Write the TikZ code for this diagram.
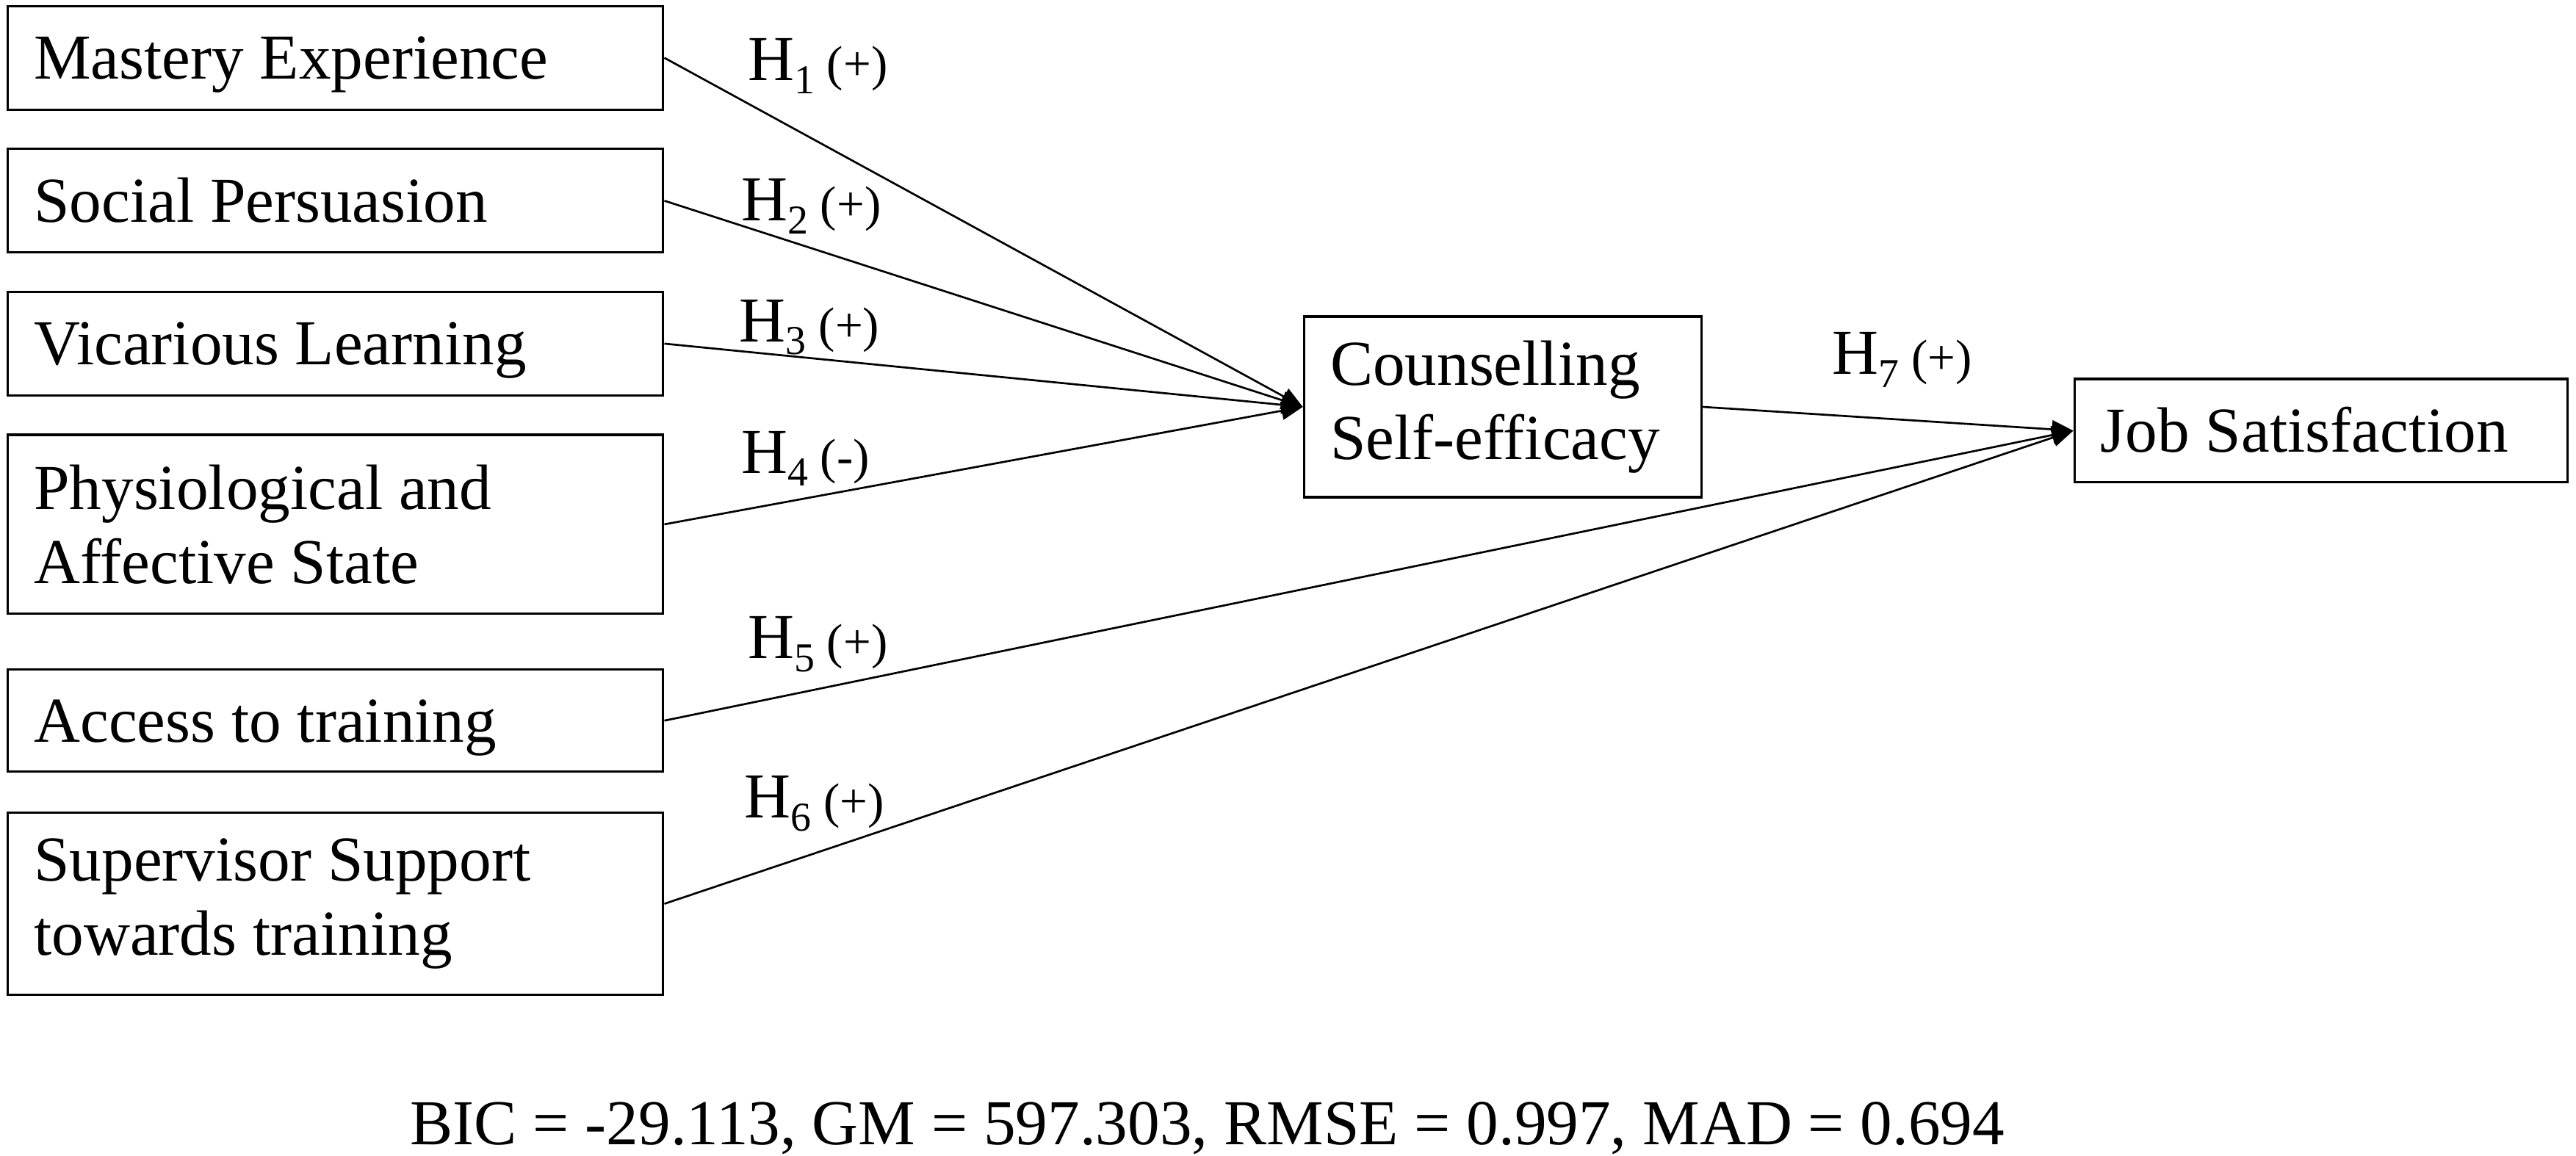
\documentclass[tikz,border=0pt]{standalone}
\usepackage{fontspec}
\setmainfont{Liberation Serif}
\usetikzlibrary{arrows.meta}
\newcommand{\hlabel}[2]{H\raisebox{-0.2em}{\fontsize{25}{25}\selectfont #1}{\fontsize{30}{30}\selectfont\ (#2)}}
\begin{document}
\begin{tikzpicture}[x=1pt,y=-1pt,
  box/.style={draw,line width=1.4pt,anchor=north west,inner xsep=16pt,inner ysep=0pt,
    font=\fontsize{39}{45}\selectfont,align=flush left},
  onebox/.style={box,text height=26pt,text depth=0pt},
  link/.style={line width=1.2pt,-{Triangle[length=13pt,width=11pt]}},
  hyp/.style={anchor=base west,inner sep=0pt,font=\fontsize{39}{45}\selectfont}]
\useasboundingbox (0,0) rectangle (1568,703.7);
\node[onebox,minimum width=399pt,minimum height=63pt,text width=367pt] (b1) at (4,3) {Mastery Experience};
\node[onebox,minimum width=399pt,minimum height=63pt,text width=367pt] (b2) at (4,90) {Social Persuasion};
\node[onebox,minimum width=399pt,minimum height=63pt,text width=367pt] (b3) at (4,177) {Vicarious Learning};
\node[box,minimum width=399pt,minimum height=109pt,text width=367pt] (b4) at (4,264) {Physiological and\\Affective State};
\node[onebox,minimum width=399pt,minimum height=62pt,text width=367pt] (b5) at (4,407) {Access to training};
\node[box,minimum width=399pt,minimum height=111pt,text width=367pt] (b6) at (4,494) {Supervisor Support\\towards training};
\node[box,minimum width=242pt,minimum height=110pt,text width=210pt] (cse) at (793,192) {Counselling\\Self-efficacy};
\node[onebox,minimum width=300pt,minimum height=63pt,text width=268pt] (js) at (1262,230) {Job Satisfaction};
\draw[link] (b1.east) -- (cse.west);
\draw[link] (b2.east) -- (cse.west);
\draw[link] (b3.east) -- (cse.west);
\draw[link] (b4.east) -- (cse.west);
\draw[link] (cse.east) -- (js.west);
\draw[link] (b5.east) -- (js.west);
\draw[link] (b6.east) -- (js.west);
\node[hyp] (h1) at (455,49) {\hlabel{1}{+}};
\node[hyp] (h2) at (451,134.5) {\hlabel{2}{+}};
\node[hyp] (h3) at (450,208) {\hlabel{3}{+}};
\node[hyp] (h4) at (451,288) {\hlabel{4}{-}};
\node[hyp] (h5) at (455,401) {\hlabel{5}{+}};
\node[hyp] (h6) at (453,498) {\hlabel{6}{+}};
\node[hyp] (h7) at (1115,228) {\hlabel{7}{+}};
\node[anchor=base,inner sep=0pt,font=\fontsize{39}{45}\selectfont] (fit) at (735,697) {BIC = -29.113, GM = 597.303, RMSE = 0.997, MAD = 0.694};
\end{tikzpicture}
\end{document}
